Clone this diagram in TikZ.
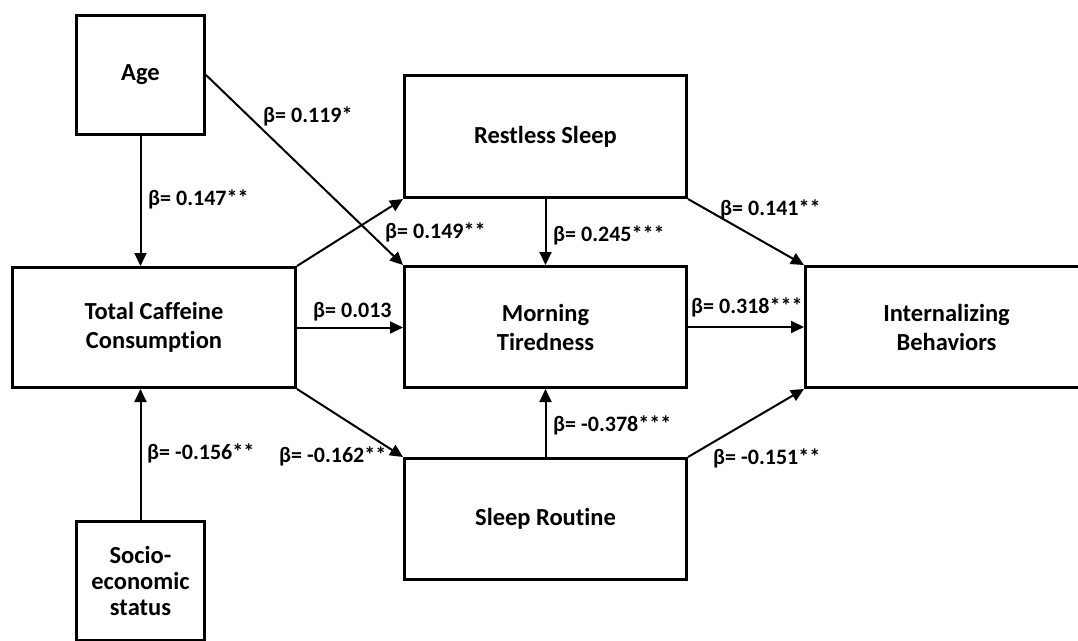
\documentclass[tikz,border=0pt]{standalone}
\usepackage{fontspec}
\setmainfont{Carlito}[Ligatures=NoCommon]
\usetikzlibrary{arrows.meta}

\tikzset{
  box/.style={draw, line width=3pt, rectangle, inner sep=0pt, align=center,
    font=\fontsize{24.5}{29}\selectfont\bfseries},
  effect/.style={line width=2pt, -{Triangle[length=13pt,width=12pt]}},
  coef/.style={anchor=base west, inner sep=0pt, font=\fontsize{22}{26}\selectfont\bfseries}
}

\begin{document}
\begin{tikzpicture}[x=1pt, y=-1pt]
        \useasboundingbox (0,0) rectangle (1078,640);
        \clip (0,0) rectangle (1078,640);
        % variables
        \node[box, minimum width=128, minimum height=119] (age) at (140.5,75) {Age};
        \node[box, minimum width=283, minimum height=120] (caff) at (154,327.5) {Total Caffeine\\Consumption};
        \node[box, minimum width=128, minimum height=119, font=\fontsize{24.5}{26}\selectfont\bfseries] (ses) at (140.5,581) {Socio-\\economic\\status};
        \node[box, minimum width=282, minimum height=122] (rest) at (545.5,136.5) {Restless Sleep};
        \node[box, minimum width=282, minimum height=121] (morn) at (545.5,327) {Morning\\Tiredness};
        \node[box, minimum width=282, minimum height=121] (rout) at (545.5,519) {Sleep Routine};
        \node[box, minimum width=282, minimum height=121] (intb) at (946.5,327) {Internalizing\\Behaviors};
        % paths
        \draw[effect] (age.south) -- (age.south |- caff.north);
        \draw[effect] (age.east) -- (morn.north west);
        \draw[effect] (ses.north) -- (ses.north |- caff.south);
        \draw[effect] (caff.north east) -- (rest.south west);
        \draw[effect] (caff.east) -- (caff.east -| morn.west);
        \draw[effect] (caff.south east) -- (rout.north west);
        \draw[effect] (rest.south) -- (rest.south |- morn.north);
        \draw[effect] (rout.north) -- (rout.north |- morn.south);
        \draw[effect] (rest.south east) -- (intb.north west);
        \draw[effect] (morn.east) -- (morn.east -| intb.west);
        \draw[effect] (rout.north east) -- (intb.south west);
        % coefficients
        \node[coef] (b-age-caff) at (148,205) {β= 0.147**};
        \node[coef] (b-age-morn) at (263,122) {β= 0.119*};
        \node[coef] (b-caff-rest) at (385,238) {β= 0.149**};
        \node[coef] (b-caff-morn) at (313,317) {β= 0.013};
        \node[coef] (b-caff-rout) at (279,462) {β= -0.162**};
        \node[coef] (b-ses-caff) at (147,459) {β= -0.156**};
        \node[coef] (b-rest-morn) at (553,241) {β= 0.245***};
        \node[coef] (b-rout-morn) at (553,431) {β= -0.378***};
        \node[coef] (b-rest-intb) at (720,215) {β= 0.141**};
        \node[coef] (b-morn-intb) at (691,313) {β= 0.318***};
        \node[coef] (b-rout-intb) at (713,464) {β= -0.151**};
\end{tikzpicture}
\end{document}
